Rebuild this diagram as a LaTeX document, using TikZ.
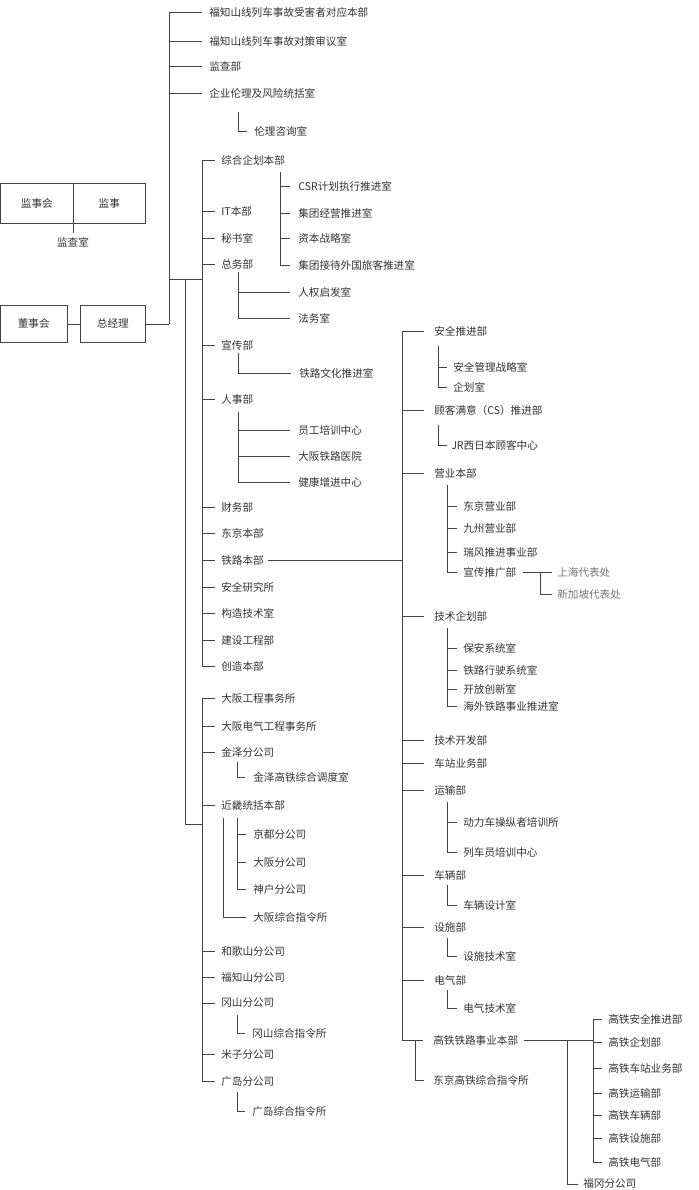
\documentclass[tikz,border=0pt]{standalone}
\usepackage{fontspec}
\newfontfamily\cjk{Noto Sans CJK SC}
\definecolor{txt}{HTML}{333333}
\definecolor{gtxt}{HTML}{777777}
\definecolor{ln}{HTML}{444444}
\newcommand{\tk}[3]{\draw (#1 |- #2.west) -- ([xshift=-#3pt]#2.west);}
\begin{document}
\begin{tikzpicture}[x=1pt,y=-1pt,
  lbl/.style={anchor=west,inner sep=0,font=\cjk\fontsize{10.6}{12}\selectfont,text=txt},
  glbl/.style={lbl,text=gtxt},
  bx/.style={draw=ln,anchor=north west,inner sep=0,font=\cjk\fontsize{10.6}{12}\selectfont,text=txt},
  color=ln,line width=0.6pt]
\useasboundingbox (0,0) rectangle (698,1190);
\coordinate (v0) at (169,0);
\coordinate (vA) at (202,0);
\coordinate (vB) at (280,0);
\coordinate (vC) at (238,0);
\coordinate (vR) at (402,0);
\coordinate (vS) at (438,0);
\coordinate (vT) at (447,0);
\coordinate (vU) at (540,0);
\coordinate (vH) at (593,0);
\coordinate (vF) at (567,0);
\coordinate (vK) at (415,0);
\coordinate (vD) at (237,0);
\coordinate (vE) at (223,0);
\coordinate (vJ) at (185,0);
% boxes
\node[bx,minimum width=73,minimum height=40] (sb1) at (0,183) {监事会};
\node[bx,minimum width=72,minimum height=40] (sb2) at (73,183) {监事};
\node[lbl,anchor=center] (jc) at (73,242) {监查室};
\draw (sb1.south east) -- ([yshift=-9pt]sb1.south east);
\node[bx,minimum width=67,minimum height=37] (bd) at (0,305) {董事会};
\node[bx,minimum width=65,minimum height=37] (gm) at (80,305) {总经理};
\draw (bd.east) -- (gm.west);
\draw (gm.east) -- (v0 |- gm.east);
% top
\node[lbl] (t1) at (209,12) {福知山线列车事故受害者对应本部};
\node[lbl] (t2) at (209,41) {福知山线列车事故对策审议室};
\node[lbl] (t3) at (209,66) {监查部};
\node[lbl] (t4) at (209,93) {企业伦理及风险统括室};
\node[lbl] (t5) at (254,131) {伦理咨询室};
\draw (v0 |- t1.west) -- (v0 |- gm.east);
\tk{v0}{t1}{7}\tk{v0}{t2}{7}\tk{v0}{t3}{7}\tk{v0}{t4}{7}
\draw (238,112) -- (vC |- t5.west) -- ([xshift=-7pt]t5.west);
\draw (169,279) -- (202,279);
% group 1
\node[lbl] (a1) at (221,160) {综合企划本部};
\node[lbl] (a2) at (221,211) {IT本部};
\node[lbl] (a3) at (221,238) {秘书室};
\node[lbl] (a4) at (221,264) {总务部};
\node[lbl] (a5) at (221,345) {宣传部};
\node[lbl] (a6) at (221,399) {人事部};
\node[lbl] (a7) at (221,507) {财务部};
\node[lbl] (a8) at (221,533) {东京本部};
\node[lbl] (a9) at (221,560) {铁路本部};
\node[lbl] (a10) at (221,587) {安全研究所};
\node[lbl] (a11) at (221,613) {构造技术室};
\node[lbl] (a12) at (221,640) {建设工程部};
\node[lbl] (a13) at (221,666) {创造本部};
\draw (vA |- a1.west) -- (vA |- a13.west);
\foreach \n in {a1,a2,a3,a4,a5,a6,a7,a8,a9,a10,a11,a12,a13} {\tk{vA}{\n}{6}}
\node[lbl] (c1) at (298,186) {CSR计划执行推进室};
\node[lbl] (c2) at (298,213) {集团经营推进室};
\node[lbl] (c3) at (298,238) {资本战略室};
\node[lbl] (c4) at (298,265) {集团接待外国旅客推进室};
\draw (280,172) -- (vB |- c4.west);
\foreach \n in {c1,c2,c3,c4} {\tk{vB}{\n}{8}}
\node[lbl] (g1) at (298,292) {人权启发室};
\node[lbl] (g2) at (298,318) {法务室};
\draw (238,272) -- (vC |- g2.west);
\tk{vC}{g1}{8}\tk{vC}{g2}{8}
\node[lbl] (p1) at (299,373) {铁路文化推进室};
\draw (238,353) -- (vC |- p1.west); \tk{vC}{p1}{8}
\node[lbl] (h1) at (298,430) {员工培训中心};
\node[lbl] (h2) at (298,456) {大阪铁路医院};
\node[lbl] (h3) at (298,482) {健康增进中心};
\draw (238,412) -- (vC |- h3.west);
\tk{vC}{h1}{8}\tk{vC}{h2}{8}\tk{vC}{h3}{8}
% group 2
\node[lbl] (b1) at (221,698) {大阪工程事务所};
\node[lbl] (b2) at (221,726) {大阪电气工程事务所};
\node[lbl] (b3) at (221,752) {金泽分公司};
\node[lbl] (b4) at (221,805) {近畿统括本部};
\node[lbl] (b5) at (221,951) {和歌山分公司};
\node[lbl] (b6) at (221,977) {福知山分公司};
\node[lbl] (b7) at (221,1003) {冈山分公司};
\node[lbl] (b8) at (221,1054) {米子分公司};
\node[lbl] (b9) at (221,1081) {广岛分公司};
\draw (vA |- b1.west) -- (vA |- b9.west);
\foreach \n in {b1,b2,b3,b4,b5,b6,b7,b8,b9} {\tk{vA}{\n}{6}}
\draw (185,279) -- (185,824) -- (202,824);
\node[lbl] (k1) at (253,777) {金泽高铁综合调度室};
\draw (237,762) -- (vD |- k1.west); \tk{vD}{k1}{8}
\node[lbl] (j1) at (253,834) {京都分公司};
\node[lbl] (j2) at (253,862) {大阪分公司};
\node[lbl] (j3) at (253,889) {神户分公司};
\node[lbl] (j4) at (253,917) {大阪综合指令所};
\draw (237,818) -- (vD |- j3.west);
\tk{vD}{j1}{7}\tk{vD}{j2}{7}\tk{vD}{j3}{7}
\draw (223,818) -- (vE |- j4.west); \tk{vE}{j4}{7}
\node[lbl] (o1) at (252,1033) {冈山综合指令所};
\draw (237,1015) -- (vD |- o1.west); \tk{vD}{o1}{7}
\node[lbl] (r1) at (252,1111) {广岛综合指令所};
\draw (237,1092) -- (vD |- r1.west); \tk{vD}{r1}{7}
% railway HQ
\draw ([xshift=4pt]a9.east) -- (vR |- a9.east);
\node[lbl] (d1) at (434,331) {安全推进部};
\node[lbl] (d2) at (434,410) {顾客满意（CS）推进部};
\node[lbl] (d3) at (434,473) {营业本部};
\node[lbl] (d4) at (434,616) {技术企划部};
\node[lbl] (d5) at (434,740) {技术开发部};
\node[lbl] (d6) at (434,763) {车站业务部};
\node[lbl] (d7) at (434,790) {运输部};
\node[lbl] (d8) at (434,875) {车辆部};
\node[lbl] (d9) at (434,927) {设施部};
\node[lbl] (d10) at (434,980) {电气部};
\node[lbl] (d11) at (433,1040) {高铁铁路事业本部};
\node[lbl] (d12) at (433,1080) {东京高铁综合指令所};
\draw (vR |- d1.west) -- (vR |- d11.west);
\foreach \n in {d1,d2,d3,d4,d5,d6,d7,d8,d9,d10,d11} {\tk{vR}{\n}{10}}
\draw (415,1041) -- (vK |- d12.west); \tk{vK}{d12}{9}
\node[lbl] (e1) at (453,367) {安全管理战略室};
\node[lbl] (e2) at (453,387) {企划室};
\draw (438,346) -- (vS |- e2.west); \tk{vS}{e1}{6}\tk{vS}{e2}{6}
\node[lbl] (f1) at (451,445) {JR西日本顾客中心};
\draw (438,425) -- (vS |- f1.west); \tk{vS}{f1}{4}
\node[lbl] (s1) at (463,506) {东京营业部};
\node[lbl] (s2) at (463,528) {九州营业部};
\node[lbl] (s3) at (463,552) {瑞风推进事业部};
\node[lbl] (s4) at (463,572) {宣传推广部};
\draw (447,485) -- (vT |- s4.west);
\foreach \n in {s1,s2,s3,s4} {\tk{vT}{\n}{6}}
\node[glbl] (u1) at (557,572) {上海代表处};
\node[glbl] (u2) at (557,594) {新加坡代表处};
\draw ([xshift=6pt]s4.east) -- ([xshift=-5pt]u1.west);
\draw (vU |- u1.west) -- (vU |- u2.west) -- ([xshift=-5pt]u2.west);
\node[lbl] (m1) at (463,648) {保安系统室};
\node[lbl] (m2) at (463,670) {铁路行驶系统室};
\node[lbl] (m3) at (463,689) {开放创新室};
\node[lbl] (m4) at (463,706) {海外铁路事业推进室};
\draw (447,628) -- (vT |- m4.west);
\foreach \n in {m1,m2,m3,m4} {\tk{vT}{\n}{6}}
\node[lbl] (w1) at (463,822) {动力车操纵者培训所};
\node[lbl] (w2) at (463,852) {列车员培训中心};
\draw (447,802) -- (vT |- w2.west); \tk{vT}{w1}{6}\tk{vT}{w2}{6}
\node[lbl] (x1) at (463,905) {车辆设计室};
\draw (447,885) -- (vT |- x1.west); \tk{vT}{x1}{6}
\node[lbl] (y1) at (463,956) {设施技术室};
\draw (447,938) -- (vT |- y1.west); \tk{vT}{y1}{6}
\node[lbl] (z1) at (463,1008) {电气技术室};
\draw (447,990) -- (vT |- z1.west); \tk{vT}{z1}{6}
% shinkansen
\node[lbl] (q1) at (608,1019) {高铁安全推进部};
\node[lbl] (q2) at (608,1042) {高铁企划部};
\node[lbl] (q3) at (608,1068) {高铁车站业务部};
\node[lbl] (q4) at (608,1093) {高铁运输部};
\node[lbl] (q5) at (608,1115) {高铁车辆部};
\node[lbl] (q6) at (608,1138) {高铁设施部};
\node[lbl] (q7) at (608,1162) {高铁电气部};
\draw ([xshift=6pt]d11.east) -- (vH |- d11.east);
\draw (vH |- q1.west) -- (vH |- q7.west);
\foreach \n in {q1,q2,q3,q4,q5,q6,q7} {\tk{vH}{\n}{6}}
\node[lbl] (fk) at (583,1184) {福冈分公司};
\draw (vF |- d11.east) -- (vF |- fk.west) -- ([xshift=-5pt]fk.west);
\end{tikzpicture}
\end{document}
